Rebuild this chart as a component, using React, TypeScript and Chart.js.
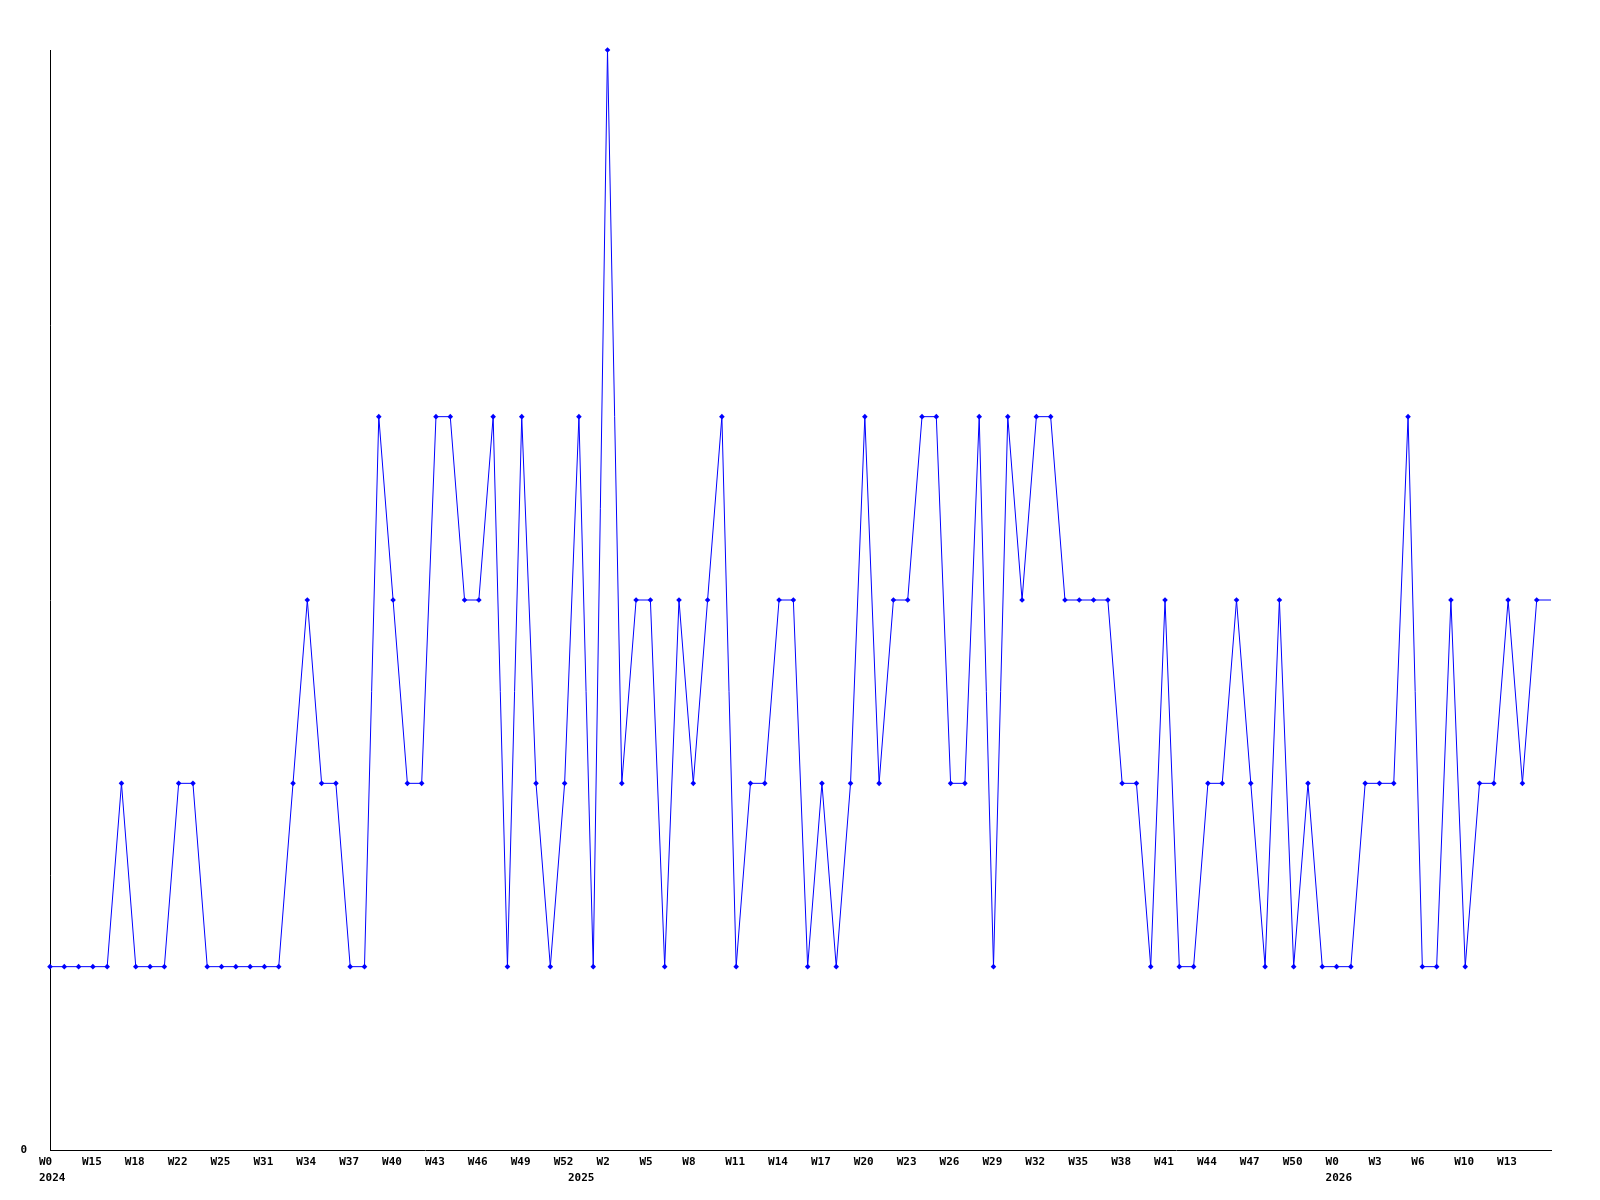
import React, { useEffect, useRef } from 'react';
import { Chart, registerables } from 'chart.js';

Chart.register(...registerables);

// weekly counts (last entry continues the line to the right edge, no marker)
const values: number[] = [
  1, 1, 1, 1, 1, 2, 1, 1, 1, 2, 2, 1, 1, 1, 1, 1, 1, 2, 3, 2, 2, 1,
  1, 4, 3, 2, 2, 4, 4, 3, 3, 4, 1, 4, 2, 1, 2, 4, 1, 6, 2, 3, 3, 1,
  3, 2, 3, 4, 1, 2, 2, 3, 3, 1, 2, 1, 2, 4, 2, 3, 3, 4, 4, 2, 2, 4,
  1, 4, 3, 4, 4, 3, 3, 3, 3, 2, 2, 1, 3, 1, 1, 2, 2, 3, 2, 1, 3,
  1, 2, 1, 1, 1, 2, 2, 2, 4, 1, 1, 3, 1, 2, 2, 3, 2, 3,
  3,
];

const tickLabels: string[] = [
  'W0', 'W15', 'W18', 'W22', 'W25', 'W31', 'W34', 'W37', 'W40', 'W43', 'W46', 'W49', 'W52',
  'W2', 'W5', 'W8', 'W11', 'W14', 'W17', 'W20', 'W23', 'W26', 'W29', 'W32', 'W35', 'W38',
  'W41', 'W44', 'W47', 'W50', 'W0', 'W3', 'W6', 'W10', 'W13',
];
const tickStep = 3;

const yearLabels: string[] = ['2024', '2025', '2026'];
const yearIndices: number[] = [0, 37, 90];

const yMin = 0;
const yMax = 6;

const categories: string[] = values.map((_, i) =>
  i % tickStep === 0 && tickLabels[i / tickStep] !== undefined ? tickLabels[i / tickStep] : ''
);

const FONT = { family: 'DejaVu Sans Mono', size: 11, weight: 'bold' as const, lineHeight: 1.45 };

export default function App() {
  const ref = useRef<HTMLCanvasElement | null>(null);

  useEffect(() => {
    if (!ref.current) return;
    const lastIdx = values.length - 1;
    const chart = new Chart(ref.current, {
      type: 'line',
      data: {
        labels: categories,
        datasets: [
          {
            data: values,
            borderColor: '#0000ff',
            backgroundColor: '#0000ff',
            borderWidth: 1,
            pointStyle: 'rectRot',
            pointRadius: (ctx: any) => (ctx.dataIndex === lastIdx ? 0 : 2.8),
            pointBorderWidth: 0,
            pointBackgroundColor: '#0000ff',
            tension: 0,
            fill: false,
            clip: false as any,
          },
        ],
      },
      options: {
        animation: false,
        responsive: false,
        devicePixelRatio: 1,
        layout: { padding: { top: 50, right: 49, left: 0, bottom: 0 } },
        plugins: { legend: { display: false }, tooltip: { enabled: false } },
        scales: {
          x: {
            type: 'category',
            offset: false,
            grid: { display: false, drawTicks: false },
            border: { display: true, color: '#000000', width: 1 },
            ticks: {
              autoSkip: false,
              maxRotation: 0,
              minRotation: 0,
              align: 'start',
              labelOffset: -11,
              padding: 4,
              color: '#000000',
              font: FONT,
              callback: (_v: any, index: number) => {
                const lbl = categories[index];
                const yi = yearIndices.indexOf(index);
                if (yi >= 0) return [lbl, yearLabels[yi]];
                return lbl;
              },
            },
            afterFit: (scale: any) => {
              scale.height = 50;
            },
          },
          y: {
            min: yMin,
            max: yMax,
            grid: { display: false, drawTicks: false },
            border: { display: true, color: '#000000', width: 1 },
            ticks: {
              stepSize: 6,
              padding: 23,
              color: '#000000',
              font: FONT,
              callback: (v: any) => (Number(v) === 0 ? '0' : ''),
            },
            afterFit: (scale: any) => {
              scale.width = 50;
            },
          },
        },
      },
    } as any);
    return () => chart.destroy();
  }, []);

  return (
    <div style={{ position: 'fixed', left: 0, top: 0, width: 1600, height: 1200, background: '#ffffff' }}>
      <canvas ref={ref} width={1600} height={1200} style={{ width: 1600, height: 1200, display: 'block' }} />
    </div>
  );
}
